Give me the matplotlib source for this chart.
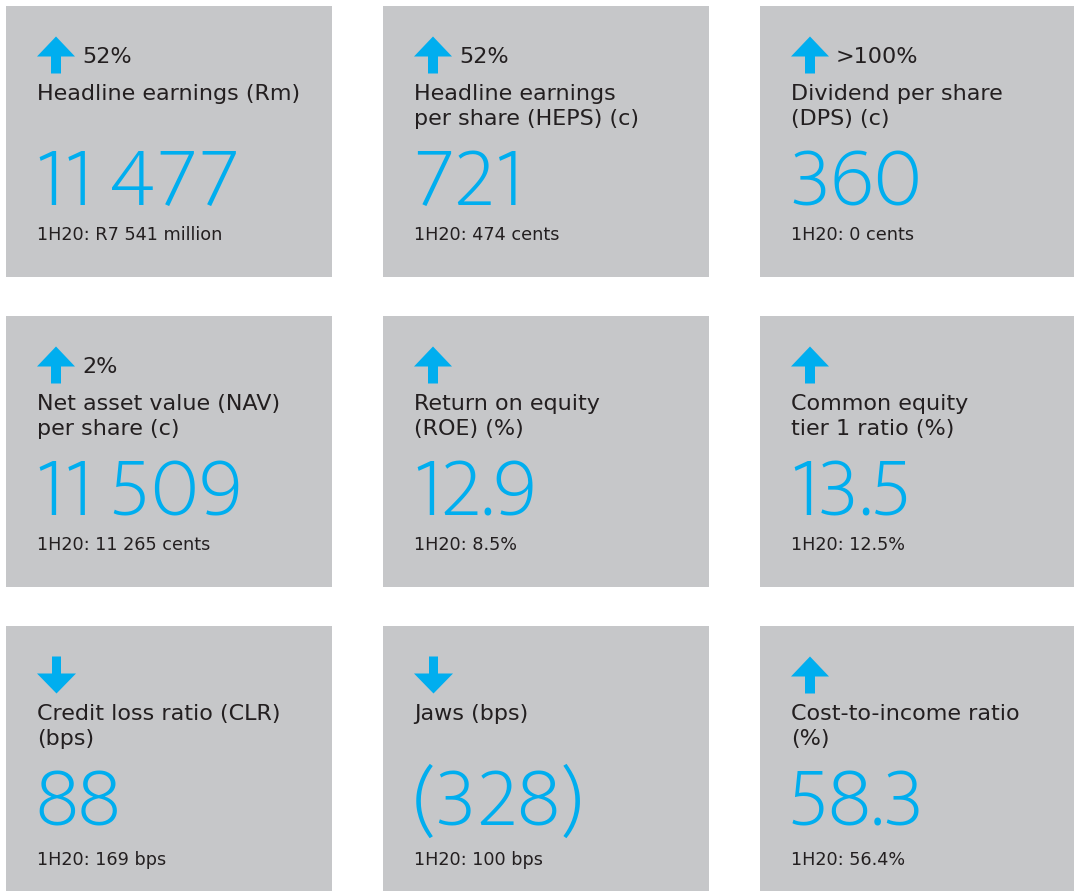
import matplotlib
matplotlib.use("Agg")
import matplotlib.pyplot as plt
from matplotlib.patches import Rectangle, Polygon

# ---- data ----
labels = [
    "Headline earnings (Rm)",
    "Headline earnings\nper share (HEPS) (c)",
    "Dividend per share\n(DPS) (c)",
    "Net asset value (NAV)\nper share (c)",
    "Return on equity\n(ROE) (%)",
    "Common equity\ntier 1 ratio (%)",
    "Credit loss ratio (CLR)\n(bps)",
    "Jaws (bps)",
    "Cost-to-income ratio\n(%)",
]
changes = ["52%", "52%", ">100%", "2%", "", "", "", "", ""]
directions = ["up", "up", "up", "up", "up", "up", "down", "down", "up"]
values = ["11 477", "721", "360", "11 509", "12.9", "13.5", "88", "(328)", "58.3"]
prior = [
    "1H20: R7 541 million",
    "1H20: 474 cents",
    "1H20: 0 cents",
    "1H20: 11 265 cents",
    "1H20: 8.5%",
    "1H20: 12.5%",
    "1H20: 169 bps",
    "1H20: 100 bps",
    "1H20: 56.4%",
]

# ---- style ----
GRAY = "#c6c7c9"
BLUE = "#00aeef"
DARK = "#231f20"
W, H = 1074, 891
col_left = [6, 383, 760]
row_top = [6, 316, 626]
card_w = [326, 326, 330]
card_h = [271, 271, 280]
foot_off = [234, 234, 239]

fig = plt.figure(figsize=(W / 100, H / 100), dpi=100)
ax = fig.add_axes([0, 0, 1, 1])
ax.set_xlim(0, W)
ax.set_ylim(H, 0)
ax.axis("off")

label_font = ["DejaVu Sans"]
big_font = ["Mukta", "Roboto", "DejaVu Sans"]


def arrow(x0, y0, up):
    if up:
        pts = [(x0, y0 + 20), (x0 + 19, y0), (x0 + 38, y0 + 20), (x0 + 24, y0 + 20),
               (x0 + 24, y0 + 37), (x0 + 14, y0 + 37), (x0 + 14, y0 + 20)]
    else:
        pts = [(x0 + 15, y0), (x0 + 24, y0), (x0 + 24, y0 + 17), (x0 + 39, y0 + 17),
               (x0 + 19.5, y0 + 37), (x0, y0 + 17), (x0 + 15, y0 + 17)]
    ax.add_patch(Polygon(pts, closed=True, facecolor=BLUE, edgecolor="none"))


for i in range(9):
    r, c = divmod(i, 3)
    L, T = col_left[c], row_top[r]
    ax.add_patch(Rectangle((L, T), card_w[c], card_h[r], facecolor=GRAY, edgecolor="none"))
    tx = L + 31
    arrow(tx, T + 30.5, directions[i] == "up")
    if changes[i]:
        ax.text(L + 76, T + 57, changes[i], fontsize=16, color=DARK, family=label_font,
                va="baseline", ha="left")
    for k, line in enumerate(labels[i].split("\n")):
        ax.text(tx, T + 94 + 25 * k, line, fontsize=16, color=DARK, family=label_font,
                va="baseline", ha="left")
    ax.text(tx - 2, T + 199, values[i], fontsize=61, color=BLUE, family=big_font,
            fontweight="light", va="baseline", ha="left")
    ax.text(tx, T + foot_off[r], prior[i], fontsize=12.7, color=DARK, family=label_font,
            va="baseline", ha="left")

fig.savefig("out.png", dpi=100)
